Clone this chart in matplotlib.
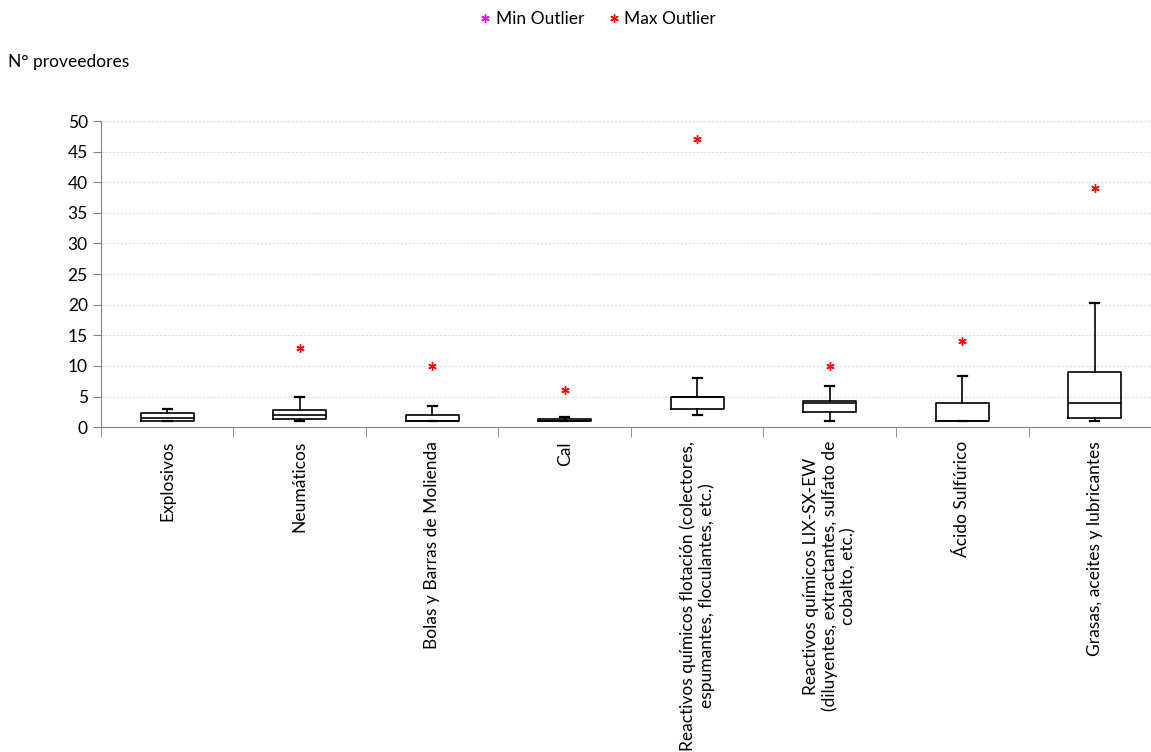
import matplotlib.pyplot as plt
import numpy as np

plt.rcParams['font.family'] = ['Lato', 'DejaVu Sans']

categorias = [
    "Explosivos",
    "Neumáticos",
    "Bolas y Barras de Molienda",
    "Cal",
    "Reactivos químicos flotación (colectores,\nespumantes, floculantes, etc.)",
    "Reactivos químicos LIX-SX-EW\n(diluyentes, extractantes, sulfato de\ncobalto, etc.)",
    "Ácido Sulfúrico",
    "Grasas, aceites y lubricantes",
]
minimo = [1, 1, 1, 1, 2, 1, 1, 1]
q1 = [1, 1.25, 1, 1, 3, 2.5, 1, 1.5]
mediana = [1.5, 2, 1, 1, 5, 4, 1, 4]
q3 = [2.25, 2.75, 2, 1.25, 5, 4.2, 4, 9]
maximo = [3, 5, 3.5, 1.7, 8, 6.8, 8.4, 20.2]
max_outlier = [None, 13, 10, 6, 47, 10, 14, 39]
min_outlier = [None] * 8

fs = 12.5
fig = plt.figure(figsize=(11.51, 7.52), dpi=100)
# the category axis runs a little past the right edge, as in the original
ax = fig.add_axes([0.0877, 0.432, 0.921, 0.407])

pos = np.arange(len(categorias))
stats = []
for i in range(len(categorias)):
    stats.append({"whislo": minimo[i], "q1": q1[i], "med": mediana[i],
                  "q3": q3[i], "whishi": maximo[i], "fliers": []})

ax.bxp(stats, positions=pos, widths=0.4, capwidths=0.07, showfliers=False,
       boxprops=dict(color="black", linewidth=1.2),
       medianprops=dict(color="black", linewidth=1.2),
       whiskerprops=dict(color="black", linewidth=1.2),
       capprops=dict(color="black", linewidth=1.6),
       manage_ticks=False)

mk = dict(linestyle="none", marker=(6, 2, 0), markersize=6, markeredgewidth=1.0)
mx = [(p, v) for p, v in zip(pos, max_outlier) if v is not None]
ax.plot([m[0] for m in mx], [m[1] for m in mx], color="red", clip_on=False, **mk)
ax.plot([], [], color="magenta", label="Min Outlier", **mk)
ax.plot([], [], color="red", label="Max Outlier", **mk)

ax.set_xlim(-0.5, len(categorias) - 0.5)
ax.set_ylim(0, 50)
ax.set_yticks(np.arange(0, 51, 5))
ax.yaxis.grid(True, color="#e0e0e0", linestyle=(0, (2, 1.5)), linewidth=0.8)
ax.set_axisbelow(True)

ax.set_xticks(pos)
ax.set_xticklabels(categorias, rotation=90, ha="center", va="top",
                   multialignment="center", fontsize=fs)
ax.tick_params(axis="x", length=0, pad=10)
ax.set_xticks(np.arange(-0.5, len(categorias), 1), minor=True)
ax.tick_params(axis="x", which="minor", length=7, color="#808080")
ax.tick_params(axis="y", length=6, color="#808080", labelsize=fs)

for s in ["top", "right"]:
    ax.spines[s].set_visible(False)
for s in ["left", "bottom"]:
    ax.spines[s].set_color("#808080")

fig.text(0.007, 0.917, "N° proveedores", fontsize=fs, va="center")
fig.legend(loc="upper center", bbox_to_anchor=(0.518, 1.006), ncol=2,
           frameon=False, fontsize=fs, handletextpad=0.1, columnspacing=1.2,
           handlelength=1.0)

fig.savefig("out.png", dpi=100)
